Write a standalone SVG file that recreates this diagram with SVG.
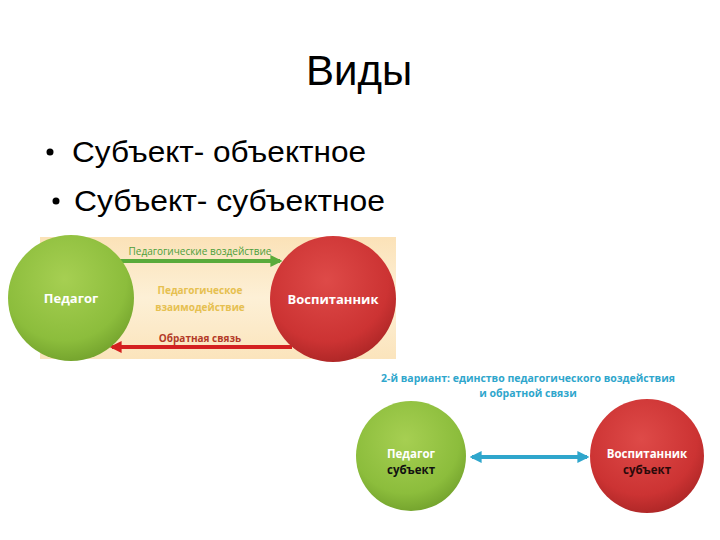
<svg xmlns="http://www.w3.org/2000/svg" width="720" height="540" viewBox="0 0 720 540">
<style>
.h{font-family:"Liberation Sans",Arial,sans-serif;fill:#000}
.b{font-family:"Open Sans","Liberation Sans",sans-serif;font-weight:bold;text-anchor:middle}
.w{fill:#fff}
</style>
<defs>
<radialGradient id="gg" cx="0.45" cy="0.35" r="0.7">
<stop offset="0" stop-color="#a6cf52"/><stop offset="0.7" stop-color="#8cbd3c"/><stop offset="1" stop-color="#6f9e2a"/>
</radialGradient>
<radialGradient id="rg" cx="0.45" cy="0.35" r="0.7">
<stop offset="0" stop-color="#de4a48"/><stop offset="0.7" stop-color="#cc3333"/><stop offset="1" stop-color="#a82424"/>
</radialGradient>
<linearGradient id="band" x1="0" y1="0" x2="0" y2="1">
<stop offset="0" stop-color="#fbe2b8"/><stop offset="0.5" stop-color="#fdf0d6"/><stop offset="1" stop-color="#fbe4bc"/>
</linearGradient>
<marker id="ag" viewBox="0 0 10 10" refX="8" refY="5" markerWidth="3" markerHeight="3" orient="auto"><path d="M0,0L10,5L0,10z" fill="#5aab3a"/></marker>
<marker id="ar" viewBox="0 0 10 10" refX="8" refY="5" markerWidth="3" markerHeight="3" orient="auto"><path d="M0,0L10,5L0,10z" fill="#d42020"/></marker>
<marker id="ab" viewBox="0 0 10 10" refX="8" refY="5" markerWidth="3" markerHeight="3" orient="auto-start-reverse"><path d="M0,0L10,5L0,10z" fill="#2fa6cc"/></marker>
</defs>
<rect width="720" height="540" fill="#fff"/>
<text class="h" x="359" y="85" font-size="42" text-anchor="middle">Виды</text>
<circle cx="50" cy="152" r="3.5" fill="#000"/>
<text class="h" x="72" y="162" font-size="30" textLength="294" lengthAdjust="spacingAndGlyphs">Субъект- объектное</text>
<circle cx="56" cy="201" r="3.5" fill="#000"/>
<text class="h" x="74" y="211" font-size="30" textLength="311" lengthAdjust="spacingAndGlyphs">Субъект- субъектное</text>

<rect x="40" y="237" width="356" height="122" fill="url(#band)"/>
<g id="conn">
<line x1="118" y1="261" x2="280" y2="261" stroke="#5aab3a" stroke-width="4" marker-end="url(#ag)"/>
<line x1="292" y1="347" x2="112" y2="347" stroke="#d42020" stroke-width="4" marker-end="url(#ar)"/>
<line x1="472" y1="457" x2="587" y2="457" stroke="#2fa6cc" stroke-width="4" marker-start="url(#ab)" marker-end="url(#ab)"/>
</g>
<g id="labels1" class="b" font-size="10">
<text x="200" y="255" fill="#4c9e3a" font-weight="normal">Педагогические воздействие</text>
<text x="200" y="294" fill="#e6c050">Педагогическое</text>
<text x="200" y="311" fill="#e6c050">взаимодействие</text>
<text x="200" y="342" fill="#b33a28">Обратная связь</text>
</g>
<g id="ped1"><circle cx="71" cy="298" r="63" fill="url(#gg)"/><text class="b w" x="71" y="303" font-size="13">Педагог</text></g>
<g id="vos1"><circle cx="333" cy="299" r="63" fill="url(#rg)"/><text class="b w" x="333" y="304" font-size="13">Воспитанник</text></g>

<g id="title2" class="b" font-size="10.5" fill="#2fa6cc">
<text x="528" y="382">2-й вариант: единство педагогического воздействия</text>
<text x="528" y="397">и обратной связи</text>
</g>
<g id="ped2"><circle cx="411" cy="456" r="55" fill="url(#gg)"/><text class="b w" x="411" y="458" font-size="11.5">Педагог</text><text class="b" x="411" y="474" font-size="11.5" fill="#111">субъект</text></g>
<g id="vos2"><circle cx="647" cy="456" r="57" fill="url(#rg)"/><text class="b w" x="647" y="458" font-size="11.5">Воспитанник</text><text class="b" x="647" y="474" font-size="11.5" fill="#2a0a0a">субъект</text></g>
</svg>
